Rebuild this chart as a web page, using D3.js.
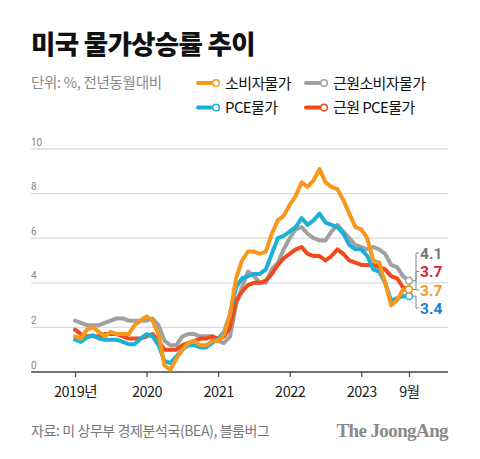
<!DOCTYPE html>
<html><head><meta charset="utf-8">
<script src="https://cdn.jsdelivr.net/npm/d3@7"></script>
<style>
html,body{margin:0;padding:0;background:#fff;}
svg{display:block;font-family:"Noto Sans CJK KR","Noto Sans",sans-serif;}
</style></head>
<body>
<svg id="c" width="480" height="459"></svg>
<script>
// month index 0 = Jan 2019 ... 56 = Sep 2023
const cpi = [1.6,1.5,1.9,2.0,1.8,1.6,1.8,1.7,1.7,1.7,2.1,2.3,
  2.5,2.3,1.7,0.3,0.1,0.6,1.0,1.3,1.4,1.2,1.2,1.4,
  1.4,1.7,2.6,4.2,5.0,5.4,5.4,5.3,5.4,6.2,6.8,7.0,
  7.5,7.9,8.5,8.3,8.6,9.1,8.5,8.3,8.2,7.7,7.1,6.5,
  6.4,6.0,5.0,4.9,4.0,3.0,3.2,3.7,3.7];
const coreCpi = [2.3,2.2,2.1,2.1,2.1,2.2,2.3,2.4,2.4,2.3,2.3,2.3,
  2.3,2.4,2.1,1.4,1.2,1.2,1.6,1.7,1.7,1.6,1.6,1.6,
  1.4,1.3,1.6,3.0,3.8,4.5,4.3,4.0,4.0,4.6,4.9,5.5,
  6.0,6.4,6.5,6.2,6.0,5.9,5.9,6.3,6.6,6.3,6.0,5.7,
  5.6,5.5,5.6,5.5,5.3,4.8,4.7,4.3,4.1];
const pce = [1.45,1.35,1.55,1.65,1.5,1.45,1.45,1.45,1.35,1.25,1.25,1.5,
  1.7,1.6,1.2,0.5,0.4,0.7,1.0,1.2,1.2,1.1,1.1,1.3,
  1.5,1.8,2.6,3.8,4.2,4.3,4.4,4.4,4.6,5.3,6.0,6.1,
  6.3,6.5,6.9,6.6,6.8,7.1,6.7,6.6,6.5,6.2,5.7,5.5,
  5.5,5.2,4.6,4.5,4.0,3.2,3.3,3.4,3.4];
const corePce = [1.9,1.7,1.6,1.6,1.6,1.7,1.7,1.7,1.6,1.5,1.5,1.5,
  1.6,1.7,1.4,1.0,1.0,1.0,1.2,1.3,1.4,1.5,1.5,1.6,
  1.5,1.6,2.0,3.2,3.6,3.9,4.0,4.0,4.1,4.4,4.8,5.1,
  5.3,5.5,5.6,5.3,5.2,5.2,5.0,5.2,5.5,5.3,5.0,4.9,
  4.8,4.8,4.8,4.7,4.6,4.3,4.2,3.8,3.7];
const seriesNames = ["소비자물가","근원소비자물가","PCE물가","근원 PCE물가"];
const seriesColors = ["#f7981d","#a0a0a0","#1bb0d8","#f04a1a"];
const labelColors = ["#f7981d","#777777","#1a82cc","#d21f3c"];
const xTickIdx = [0,12,24,36,48,56];
const xTickLabels = ["2019년","2020","2021","2022","2023","9월"];
const yTicks = [0,2,4,6,8,10];

const svg = d3.select("#c");
const x = d3.scaleLinear().domain([0,56]).range([75,409]);
const y = d3.scaleLinear().domain([0,10]).range([372,149]);

// title
svg.append("text").attr("x",31).attr("y",54).attr("font-size",26.5).attr("font-weight",900)
  .attr("letter-spacing",-0.7).attr("fill","#111").text("미국 물가상승률 추이");
svg.append("text").attr("x",31).attr("y",88).attr("font-size",14.5).attr("fill","#888")
  .attr("letter-spacing",-0.3).text("단위: %, 전년동월대비");

// legend
const legPos = [[198,83],[306,83],[198,107.5],[306,107.5]];
const legOrder = [0,1,2,3];
legOrder.forEach((k,j)=>{
  const [lx,ly] = legPos[j];
  const g = svg.append("g");
  g.append("line").attr("x1",lx).attr("x2",lx+13).attr("y1",ly).attr("y2",ly)
    .attr("stroke",seriesColors[k]).attr("stroke-width",4).attr("stroke-linecap","round");
  g.append("circle").attr("cx",lx+18).attr("cy",ly).attr("r",3.3).attr("fill","#fff")
    .attr("stroke",seriesColors[k]).attr("stroke-width",1.5);
  g.append("text").attr("x",lx+27).attr("y",ly+5.5).attr("font-size",15).attr("fill","#111")
    .attr("letter-spacing",-0.6).text(seriesNames[k]);
});

// grid
svg.append("g").selectAll("line").data(yTicks.filter(d=>d>0)).join("line")
  .attr("x1",31).attr("x2",448).attr("y1",d=>y(d)).attr("y2",d=>y(d))
  .attr("stroke","#dcdcdc").attr("stroke-width",1.3);
svg.append("g").selectAll("text").data(yTicks).join("text")
  .attr("x",31).attr("y",d=>y(d)-3.5).attr("font-size",10).attr("fill","#888")
  .attr("font-family","Roboto, sans-serif").text(d=>d);

// x axis
const xAxis = d3.axisBottom(x).tickValues(xTickIdx).tickSize(5)
  .tickFormat((d,i)=>xTickLabels[i]);
const ax = svg.append("g").attr("transform",`translate(0,${y(0)})`).call(xAxis);
ax.select(".domain").attr("d","M31,0H448").attr("stroke","#444").attr("stroke-width",1.3);
ax.selectAll(".tick line").attr("stroke","#444").attr("stroke-width",1.2);
ax.selectAll(".tick text").attr("font-size",14.5).attr("fill","#222").attr("dy","1.15em")
  .attr("font-family","\"Noto Sans CJK KR\", sans-serif").attr("letter-spacing",-0.5);

// lines
const allSeries = [cpi,coreCpi,pce,corePce];
const drawOrder = [1,3,2,0];
const line = d3.line().x((d,i)=>x(i)).y(d=>y(d));
drawOrder.forEach(k=>{
  svg.append("path").datum(allSeries[k]).attr("d",line).attr("fill","none")
    .attr("stroke",seriesColors[k]).attr("stroke-width",4)
    .attr("stroke-linejoin","round").attr("stroke-linecap","round");
});

// end labels with connectors
const lastI = 56;
const labelY = [290,253,308,271.5]; // by series index
const labelOrder = [1,3,0,2];
labelOrder.forEach(k=>{
  const v = allSeries[k][lastI];
  const cy = y(v), cx = x(lastI);
  const ly = labelY[k];
  svg.append("path").attr("d",`M${cx+3},${cy}H416V${ly}H419`)
    .attr("fill","none").attr("stroke","#888").attr("stroke-width",1);
});
drawOrder.forEach(k=>{
  const v = allSeries[k][lastI];
  svg.append("circle").attr("cx",x(lastI)).attr("cy",y(v)).attr("r",3.4)
    .attr("fill","#fff").attr("stroke",seriesColors[k]).attr("stroke-width",1.5);
});
labelOrder.forEach(k=>{
  const v = allSeries[k][lastI];
  svg.append("text").attr("x",420).attr("y",labelY[k]+5.5).attr("font-size",15.5)
    .attr("font-weight",700).attr("fill",labelColors[k])
    .attr("font-family","Roboto, \"Noto Sans\", sans-serif").text(d3.format(".1f")(v));
});

// footer
svg.append("text").attr("x",31).attr("y",436).attr("font-size",14).attr("fill","#777")
  .attr("letter-spacing",-0.4).text("자료: 미 상무부 경제분석국(BEA), 블룸버그");
svg.append("text").attr("x",448).attr("y",437).attr("text-anchor","end")
  .attr("font-family","\"Liberation Serif\", \"DejaVu Serif\", serif").attr("font-weight",700)
  .attr("font-size",19).attr("fill","#8a8a8a").attr("letter-spacing",-0.6).text("The JoongAng");
</script>
</body></html>
